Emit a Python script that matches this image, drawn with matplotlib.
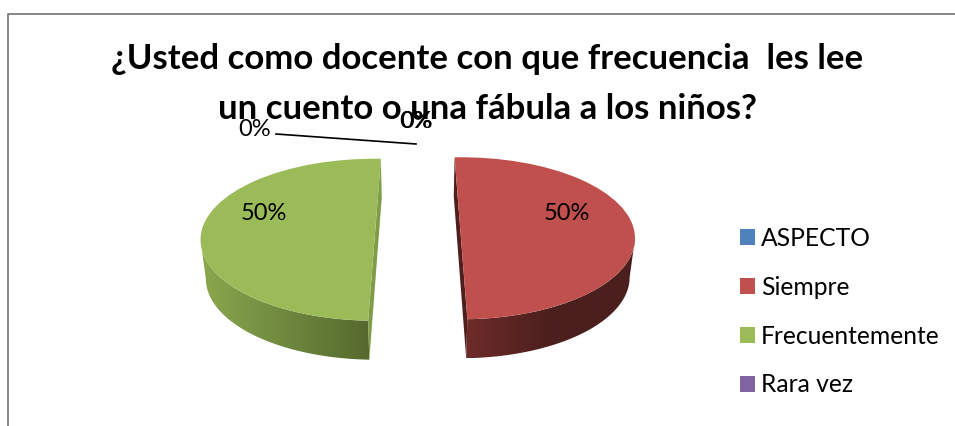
"""3D style exploded pie chart about reading frequency."""

import numpy as np
import matplotlib
matplotlib.use("Agg")
import matplotlib.pyplot as plt
from matplotlib.colors import LinearSegmentedColormap
from matplotlib.lines import Line2D
from matplotlib.patches import Polygon
from matplotlib.transforms import Affine2D

categories = ["ASPECTO", "Siempre", "Frecuentemente", "Rara vez"]
values = [0, 50, 50, 0]
title_lines = ["¿Usted como docente con que frecuencia  les lee",
               "un cuento o una fábula a los niños?"]
colors = ["#4F81BD", "#C0504D", "#9BBB59", "#8064A2"]

WIDTH, HEIGHT = 955, 426
plt.rcParams["font.family"] = ["Lato", "DejaVu Sans"]

fig = plt.figure(figsize=(WIDTH / 100, HEIGHT / 100), dpi=100, facecolor="white")
ax = fig.add_axes([0, 0, 1, 1])

# pixel coordinates of the picture, y going down
px = Affine2D().scale(1 / WIDTH, -1 / HEIGHT).translate(0, 1) + fig.transFigure

# pie geometry in pixels
cx, cy, rx, ry = 417.75, 239, 174, 81
depth = 39

wedges, _ = ax.pie(values, colors=colors, startangle=92.1, counterclock=False,
                   explode=[0, 0.2486, 0.2486, 0], radius=1,
                   wedgeprops={"linewidth": 0, "zorder": 3})
ax.set_aspect("auto")

# the 3D perspective leans the left slice's cut edge the other way
green = wedges[categories.index("Frecuentemente")]
green.set_theta1(green.theta1 - 4.2)
green.set_theta2(green.theta2 - 4.2)


def side_wall(wedge, inward):
    """Return outer wall outline and cut face outline of one wedge."""
    t = np.radians(np.linspace(wedge.theta1, wedge.theta2, 200))
    x0, y0 = wedge.center
    top = np.column_stack([x0 + np.cos(t), y0 + np.sin(t)])
    low = np.column_stack([x0 + inward + 0.975 * np.cos(t),
                           y0 - depth / ry + np.sin(t)])
    # only the front half of the rim can be seen
    front = np.sin(t) <= 0
    outline = np.vstack([top[front], low[front][::-1]])
    cut = np.array([top[0], top[-1], low[-1], low[0]])
    return outline, cut


# side walls, the gradient is clipped to the wall shape
wall_maps = {
    "Siempre": (["#6E2C2A", "#4B1F1D", "#4B1F1D"], "#4F1F1E", 1),
    "Frecuentemente": (["#8BA84E", "#6F883F", "#55692C"], "#7F9C48", -1),
}
for name, wedge in zip(categories, wedges):
    if name not in wall_maps:
        continue
    ramp, cut_color, sign = wall_maps[name]
    outline, cut = side_wall(wedge, -sign * 1.0 / rx)
    left, right = outline[:, 0].min(), outline[:, 0].max()
    bottom, top = outline[:, 1].min(), outline[:, 1].max()
    cmap = LinearSegmentedColormap.from_list(name, ramp)
    grad = np.linspace(0, 1, 256).reshape(1, -1)
    image = ax.imshow(grad, cmap=cmap, aspect="auto", zorder=1,
                      extent=(left, right, bottom, top))
    clip = Polygon(outline, closed=True, transform=ax.transData)
    image.set_clip_path(clip)
    ax.add_patch(Polygon(cut, closed=True, facecolor=cut_color,
                         edgecolor="none", zorder=2))

ax.set_xlim(-cx / rx, (WIDTH - cx) / rx)
ax.set_ylim(-(HEIGHT - cy) / ry, cy / ry)

# chart frame, only top and left are in the picture
fig.add_artist(Line2D([7.5, 7.5, WIDTH], [HEIGHT, 14, 14], transform=px,
                      color="#868686", linewidth=1.4))

for line, y in zip(title_lines, [59, 109]):
    fig.text(487, y, line, transform=px, ha="center", va="center",
             fontsize=25, fontweight="bold", color="black")

# percentage labels
total = sum(values)
label_pos = {"ASPECTO": (416, 122), "Siempre": (567, 213),
             "Frecuentemente": (264, 214), "Rara vez": (255, 130)}
for name, value in zip(categories, values):
    x, y = label_pos[name]
    fig.text(x, y, f"{value / total:.0%}", transform=px, ha="center", va="center",
             fontsize=17, color="black", zorder=5)
# two zero labels sit almost on top of each other
fig.text(417, 122, "0%", transform=px, ha="center", va="center",
         fontsize=17, color="black", zorder=5)

fig.add_artist(Line2D([276, 416], [134, 144], transform=px, color="black",
                      linewidth=1.2))

leg = fig.legend(wedges, categories, loc="upper left", frameon=False,
                 bbox_to_anchor=(740, 227), bbox_transform=px,
                 borderaxespad=0, borderpad=0, fontsize=17.7,
                 handlelength=0.61, handleheight=0.61, handletextpad=0.25,
                 labelspacing=1.05, labelcolor="black")

fig.savefig("out.png", dpi=100, facecolor="white")
plt.close(fig)
